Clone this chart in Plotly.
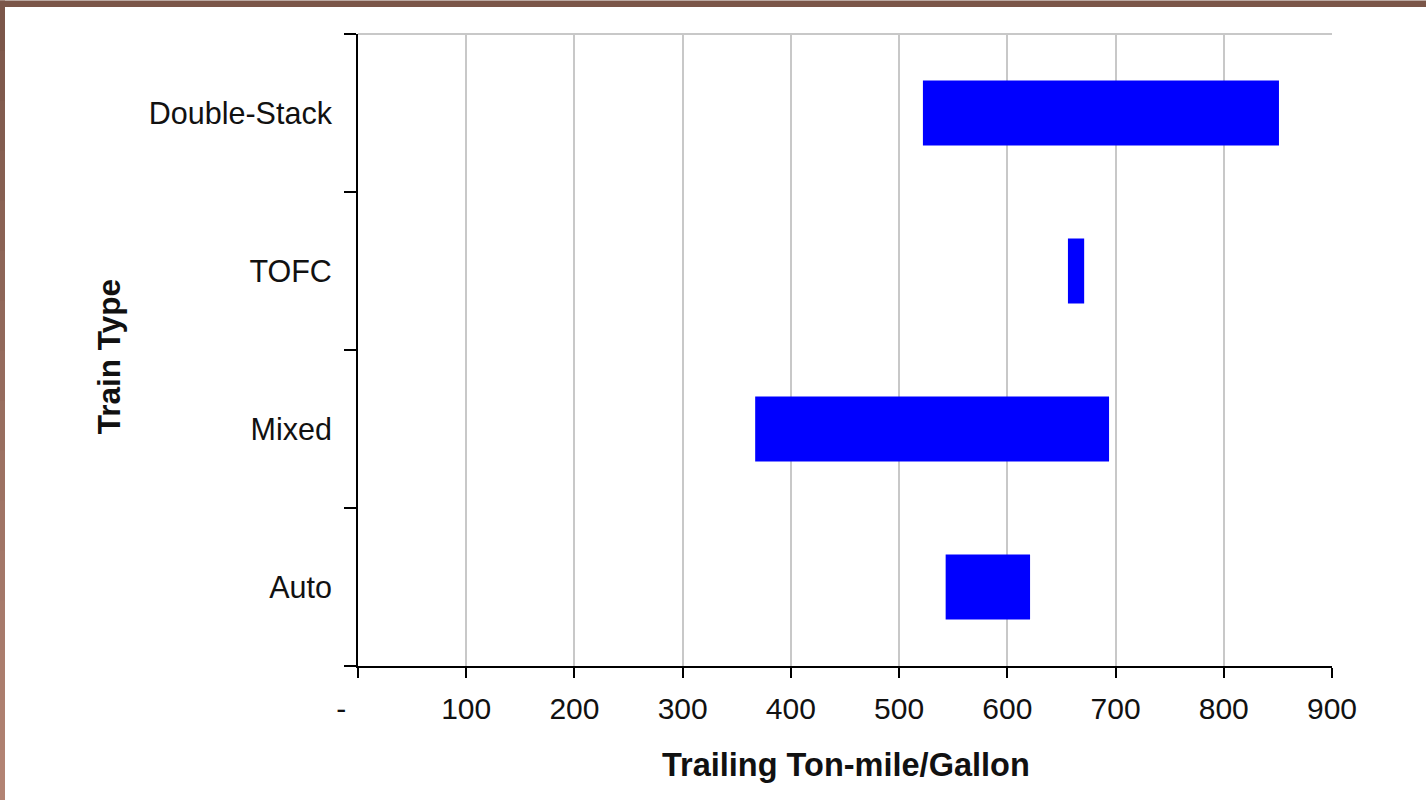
import plotly.graph_objects as go

# Data
train_types = ["Auto", "Mixed", "TOFC", "Double-Stack"]
low_values = [543, 367, 656, 522]
high_values = [621, 694, 671, 851]
x_tick_vals = [0, 100, 200, 300, 400, 500, 600, 700, 800, 900]
x_tick_text = ["-\u00a0\u00a0\u00a0\u00a0", "100", "200", "300", "400", "500", "600", "700", "800", "900"]
x_title = "Trailing Ton-mile/Gallon"
y_title = "Train Type"

W, H = 1426, 800
L, R, T, B = 358, 1332, 33.5, 666
FONT = "Liberation Sans, Arial, sans-serif"

fig = go.Figure()
fig.add_trace(go.Bar(
    y=train_types,
    x=[h - l for l, h in zip(low_values, high_values)],
    base=low_values,
    orientation="h",
    width=0.41,
    marker=dict(color="#0000ff", line=dict(width=0)),
    hoverinfo="skip",
))

def px_x(p):
    return (p - L) / (R - L)

def px_y(p):
    return (B - p) / (B - T)

shapes = []
# top gray border of plot area
shapes.append(dict(type="line", xref="paper", yref="paper", x0=0, x1=1, y0=1, y1=1,
                   line=dict(color="#c8c8c8", width=2), layer="below"))
# page frame: top band
shapes.append(dict(type="rect", xref="paper", yref="paper",
                   x0=px_x(0), x1=px_x(W), y0=px_y(0), y1=px_y(6.5),
                   fillcolor="#7b5649", line=dict(width=0)))
# left band with vertical gradient
n = 16
c0 = (0x7b, 0x56, 0x49)
c1 = (0xb2, 0x83, 0x73)
for i in range(n):
    t = i / (n - 1)
    c = tuple(round(a + (b - a) * t) for a, b in zip(c0, c1))
    shapes.append(dict(type="rect", xref="paper", yref="paper",
                       x0=px_x(0), x1=px_x(5),
                       y0=px_y(H * i / n), y1=px_y(H * (i + 1) / n + 1),
                       fillcolor="rgb(%d,%d,%d)" % c, line=dict(width=0)))

annotations = [
    dict(text="<b>%s</b>" % x_title, xref="paper", yref="paper",
         x=px_x(846), y=px_y(765), showarrow=False,
         font=dict(family=FONT, size=32.5, color="#111111"),
         xanchor="center", yanchor="middle"),
    dict(text="<b>%s</b>" % y_title, xref="paper", yref="paper",
         x=px_x(109), y=px_y(357), showarrow=False, textangle=-90,
         font=dict(family=FONT, size=31.5, color="#111111"),
         xanchor="center", yanchor="middle"),
]

fig.update_layout(
    width=W, height=H,
    margin=dict(l=L, r=W - R, t=T, b=H - B, pad=0),
    paper_bgcolor="white", plot_bgcolor="white",
    showlegend=False,
    shapes=shapes,
    annotations=annotations,
    font=dict(family=FONT, size=30, color="#111111"),
    xaxis=dict(
        range=[0, 900], tickvals=x_tick_vals, ticktext=x_tick_text,
        showgrid=True, gridcolor="#c8c8c8", gridwidth=2,
        zeroline=False, showline=True, linecolor="black", linewidth=2,
        ticks="outside", ticklen=10, tickwidth=2, tickcolor="black",
        ticklabelstandoff=5,
        tickfont=dict(family=FONT, size=30, color="#111111"),
        fixedrange=True,
    ),
    yaxis=dict(
        type="category", categoryorder="array", categoryarray=train_types,
        range=[-0.5, 3.5], tickson="boundaries",
        showgrid=False, zeroline=False, showline=True, linecolor="black", linewidth=2,
        ticks="outside", ticklen=12, tickwidth=2, tickcolor="black",
        ticklabelstandoff=18,
        tickfont=dict(family=FONT, size=30.5, color="#111111"),
        fixedrange=True,
    ),
)

fig.write_html("out.html", config={"displayModeBar": False},
               post_script="document.body.style.margin='0';document.body.style.overflow='hidden';")
